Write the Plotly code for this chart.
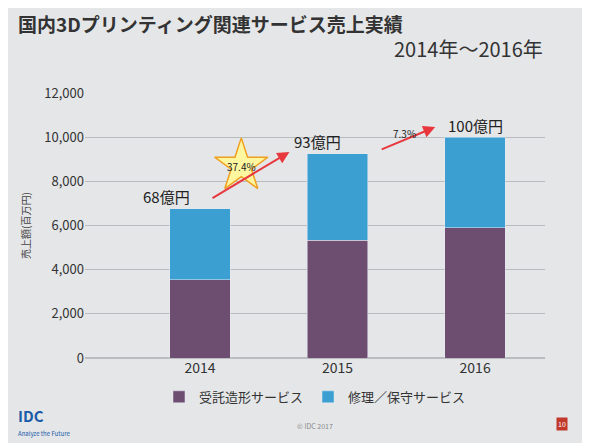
import plotly.graph_objects as go

years = [2014, 2015, 2016]
contract = [3550, 5330, 5900]
repair = [3200, 3920, 4100]
totals_label = ["68億円", "93億円", "100億円"]
growth = ["37.4%", "7.3%"]

font = "Noto Sans CJK JP"
fig = go.Figure()
fig.add_bar(x=years, y=contract, name="受託造形サービス", marker_color="#6e4e70", width=0.44)
fig.add_bar(x=years, y=repair, name="修理／保守サービス", marker_color="#3b9fd2", width=0.44)

tops = [c + r for c, r in zip(contract, repair)]
for x, t, lab, dx in zip(years, tops, totals_label, [-34, -20, 0]):
    fig.add_annotation(x=x, y=t, text=lab, showarrow=False, yshift=12, xshift=dx,
                       font=dict(size=15, color="#222"))

# growth arrows
fig.add_annotation(x=2014.65, y=9330, ax=2014.08, ay=7200, axref="x", ayref="y",
                   showarrow=True, arrowhead=2, arrowsize=1.2, arrowwidth=2, arrowcolor="#e8383d", text="")
fig.add_annotation(x=2015.71, y=10460, ax=2015.31, ay=9420, axref="x", ayref="y",
                   showarrow=True, arrowhead=2, arrowsize=1.2, arrowwidth=2, arrowcolor="#e8383d", text="")
fig.add_scatter(x=[2014.3], y=[8700], mode="markers", showlegend=False, hoverinfo="skip",
                marker=dict(symbol="star", size=40, color="#fff7a0", line=dict(color="#f0a020", width=1.5)))
fig.add_annotation(x=2014.3, y=8650, text=growth[0], showarrow=False, font=dict(size=10, color="#222"))
fig.add_annotation(x=2015.49, y=10150, text=growth[1], showarrow=False, font=dict(size=10, color="#222"))

fig.add_annotation(xref="paper", yref="paper", x=-0.15, y=1.0, text="<b>国内3Dプリンティング関連サービス売上実績</b>",
                   showarrow=False, xanchor="left", yanchor="bottom", yshift=54, font=dict(size=19, color="#333"))
fig.add_annotation(xref="paper", yref="paper", x=1.0, y=1.0, text="2014年～2016年",
                   showarrow=False, xanchor="right", yanchor="bottom", yshift=28, font=dict(size=20, color="#333"))
fig.add_annotation(xref="paper", yref="paper", x=-0.15, y=0.5, text="売上額(百万円)", textangle=-90,
                   showarrow=False, font=dict(size=10, color="#444"))
fig.add_annotation(xref="paper", yref="paper", x=-0.15, y=-0.2, text="<b>IDC</b>",
                   showarrow=False, xanchor="left", yanchor="top", yshift=8, font=dict(size=15, color="#1a5aa8"))
fig.add_annotation(xref="paper", yref="paper", x=-0.15, y=-0.2, text="Analyze the Future",
                   showarrow=False, xanchor="left", yanchor="top", yshift=-16, font=dict(size=6, color="#1a5aa8"))
fig.add_annotation(xref="paper", yref="paper", x=0.5, y=-0.2, text="© IDC 2017", yshift=-22,
                   showarrow=False, font=dict(size=7, color="#888"))
fig.add_annotation(xref="paper", yref="paper", x=1.05, y=-0.2, text="10", yshift=-20, bgcolor="#c0392b",
                   showarrow=False, font=dict(size=7, color="white"))

fig.update_layout(
    width=590, height=443, barmode="stack",
    paper_bgcolor="#e4e6e8", plot_bgcolor="#e4e6e8",
    margin=dict(l=77, r=53, t=85, b=93),
    font=dict(family=font, size=13, color="#333"),
    legend=dict(orientation="h", x=0.5, xanchor="center", y=-0.09, yanchor="top", font=dict(size=13),
                traceorder="normal"),
    xaxis=dict(range=[2013.164, 2016.508], tickvals=years, ticktext=[str(y) for y in years],
               showgrid=False, zeroline=False, tickfont=dict(size=14)),
    yaxis=dict(range=[0, 12000], dtick=2000, tickformat=",", gridcolor="#b8bcbf",
               zeroline=True, zerolinecolor="#b8bcbf", tickfont=dict(size=13)),
)
fig.write_html("out.html")
